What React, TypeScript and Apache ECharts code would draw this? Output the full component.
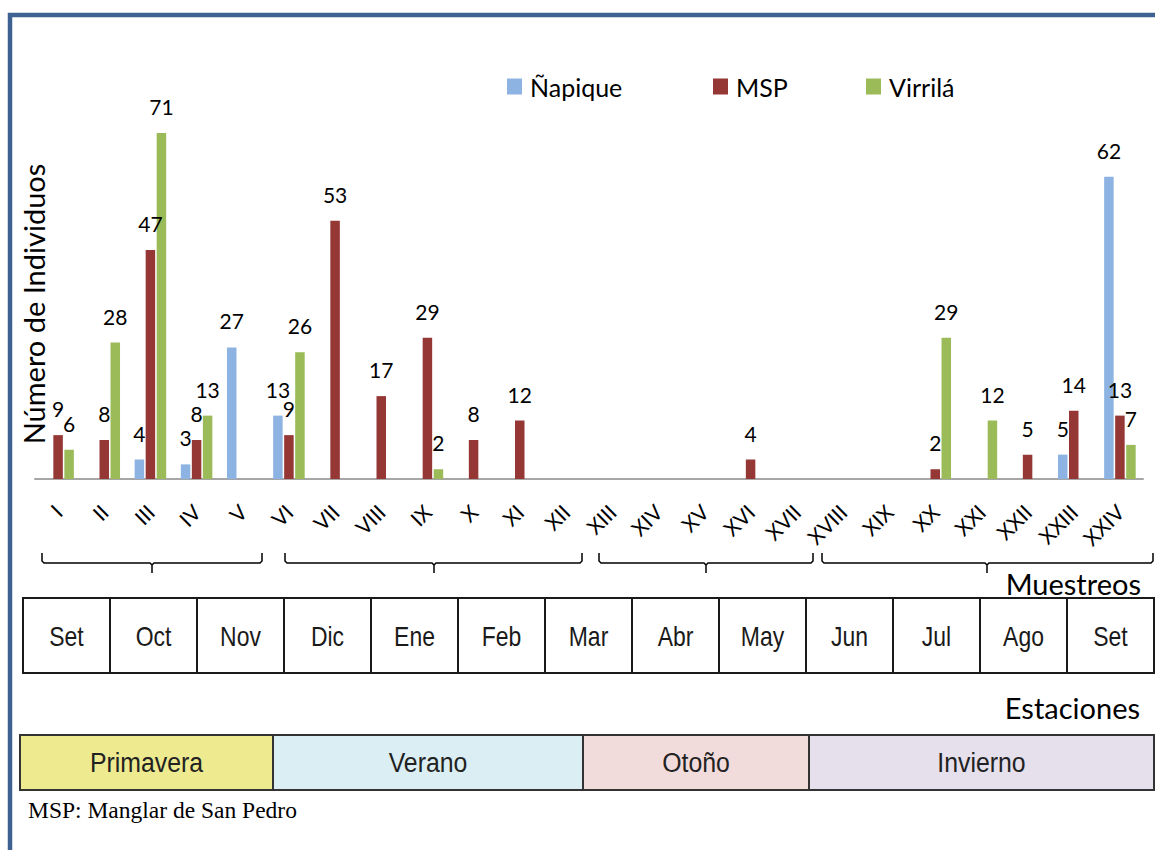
import React, { useEffect, useRef } from 'react';
import * as echarts from 'echarts';

const muestreos = ['I', 'II', 'III', 'IV', 'V', 'VI', 'VII', 'VIII', 'IX', 'X', 'XI', 'XII', 'XIII', 'XIV', 'XV', 'XVI', 'XVII', 'XVIII', 'XIX', 'XX', 'XXI', 'XXII', 'XXIII', 'XXIV'];
const napique = [0, 0, 4, 3, 27, 13, 0, 0, 0, 0, 0, 0, 0, 0, 0, 0, 0, 0, 0, 0, 0, 0, 5, 62];
const msp = [9, 8, 47, 8, 0, 9, 53, 17, 29, 8, 12, 0, 0, 0, 0, 4, 0, 0, 0, 2, 0, 5, 14, 13];
const virrila = [6, 28, 71, 13, 0, 26, 0, 0, 2, 0, 0, 0, 0, 0, 0, 0, 0, 0, 0, 29, 12, 0, 0, 7];
const meses = ['Set', 'Oct', 'Nov', 'Dic', 'Ene', 'Feb', 'Mar', 'Abr', 'May', 'Jun', 'Jul', 'Ago', 'Set'];
const estaciones = ['Primavera', 'Verano', 'Otoño', 'Invierno'];
const seriesNames = ['Ñapique', 'MSP', 'Virrilá'];

export default function App() {
  const ref = useRef<HTMLDivElement>(null);
  useEffect(() => {
    if (!ref.current) return;
    const chart = echarts.init(ref.current, undefined, { renderer: 'svg' });
    const colors = ['#8db3e2', '#953735', '#9bbb59'];
    const fontLato = 'Lato, "Open Sans", sans-serif';

    const labelCfg = {
      show: true,
      position: 'top' as const,
      distance: 18,
      fontFamily: fontLato,
      fontSize: 21,
      lineHeight: 17,
      color: '#000',
      formatter: (p: any) => (p.value === 0 ? '' : String(p.value)),
    };

    const graphics: any[] = [];
    // frame
    graphics.push({
      type: 'rect', silent: true, z: 100,
      shape: { x: 10, y: 15, width: 1300, height: 1000 },
      style: { fill: 'none', stroke: '#3d6291', lineWidth: 4.5 },
    });
    // y title
    graphics.push({
      type: 'text', x: 33, y: 304, rotation: Math.PI / 2,
      style: { text: 'Número de Individuos', font: `29px ${fontLato}`, fill: '#000', textAlign: 'center', textVerticalAlign: 'middle' },
    });
    // brackets
    const brackets = [[42, 262, 152], [285, 582, 434], [599, 813, 706], [822, 1153, 987]];
    brackets.forEach(([a, b, c]) => {
      graphics.push({
        type: 'polyline',
        shape: { points: [[a, 553], [a, 561], [a + 2, 563], [c - 2, 563], [c, 565], [c, 573], [c, 565], [c + 2, 563], [b - 2, 563], [b, 561], [b, 553]] },
        style: { stroke: '#000', lineWidth: 1.5, fill: 'none' },
      });
    });
    graphics.push({
      type: 'text', x: 1141, y: 583,
      style: { text: 'Muestreos', font: `29px ${fontLato}`, fill: '#000', textAlign: 'right', textVerticalAlign: 'middle' },
    });
    // months table
    const cellW = 87;
    meses.forEach((m, i) => {
      graphics.push({
        type: 'rect',
        shape: { x: 23 + i * cellW, y: 598, width: cellW, height: 75 },
        style: { fill: '#fff', stroke: '#1a1a1a', lineWidth: 2 },
      });
      graphics.push({
        type: 'text', x: 23 + i * cellW + cellW / 2, y: 636, scaleX: 0.82,
        style: { text: m, font: '28px "Liberation Sans", Arial, sans-serif', fill: '#1a1a1a', textAlign: 'center', textVerticalAlign: 'middle' },
      });
    });
    graphics.push({
      type: 'text', x: 1140, y: 707,
      style: { text: 'Estaciones', font: `29px ${fontLato}`, fill: '#000', textAlign: 'right', textVerticalAlign: 'middle' },
    });
    // seasons
    const bounds = [20, 273, 583, 809, 1154];
    const seasonFill = ['#eeea8f', '#daeef3', '#f2dcdb', '#e5e0ec'];
    estaciones.forEach((s, i) => {
      graphics.push({
        type: 'rect',
        shape: { x: bounds[i], y: 735, width: bounds[i + 1] - bounds[i], height: 55 },
        style: { fill: seasonFill[i], stroke: '#333', lineWidth: 2 },
      });
      graphics.push({
        type: 'text', x: (bounds[i] + bounds[i + 1]) / 2, y: 763, scaleX: 0.92,
        style: { text: s, font: '27px "Liberation Sans", Arial, sans-serif', fill: '#222', textAlign: 'center', textVerticalAlign: 'middle' },
      });
    });
    graphics.push({
      type: 'text', x: 28, y: 810,
      style: { text: 'MSP: Manglar de San Pedro', font: '23.5px "Liberation Serif", "Times New Roman", serif', fill: '#000', textAlign: 'left', textVerticalAlign: 'middle' },
    });

    const legendLefts = [502, 708, 861];
    chart.setOption({
      animation: false,
      backgroundColor: '#fff',
      color: colors,
      legend: seriesNames.map((n, i) => ({
        data: [n],
        left: legendLefts[i],
        top: 69,
        icon: 'rect',
        itemWidth: 15,
        itemHeight: 16,
        selectedMode: false,
        textStyle: { fontFamily: fontLato, fontSize: 25, lineHeight: 25, color: '#000', padding: [0, 0, 0, 3] },
      })),
      grid: { left: 35, right: 12, top: 89, bottom: 371, containLabel: false },
      xAxis: {
        type: 'category',
        data: muestreos,
        axisLine: { show: true, lineStyle: { color: '#a6a6a6', width: 2 } },
        axisTick: { show: false },
        axisLabel: { interval: 0, rotate: 45, margin: 29, fontFamily: fontLato, fontSize: 21, color: '#000' },
      },
      yAxis: { type: 'value', min: 0, max: 80, show: false },
      series: [
        { name: seriesNames[0], type: 'bar', data: napique, barWidth: 9.5, barGap: '16%', label: labelCfg },
        { name: seriesNames[1], type: 'bar', data: msp, barWidth: 9.5, barGap: '16%', label: labelCfg },
        { name: seriesNames[2], type: 'bar', data: virrila, barWidth: 9.5, barGap: '16%', label: labelCfg },
      ],
      graphic: { elements: graphics },
    });
    return () => chart.dispose();
  }, []);
  return <div ref={ref} style={{ position: 'fixed', left: 0, top: 0, width: 1155, height: 850, background: '#fff' }} />;
}
